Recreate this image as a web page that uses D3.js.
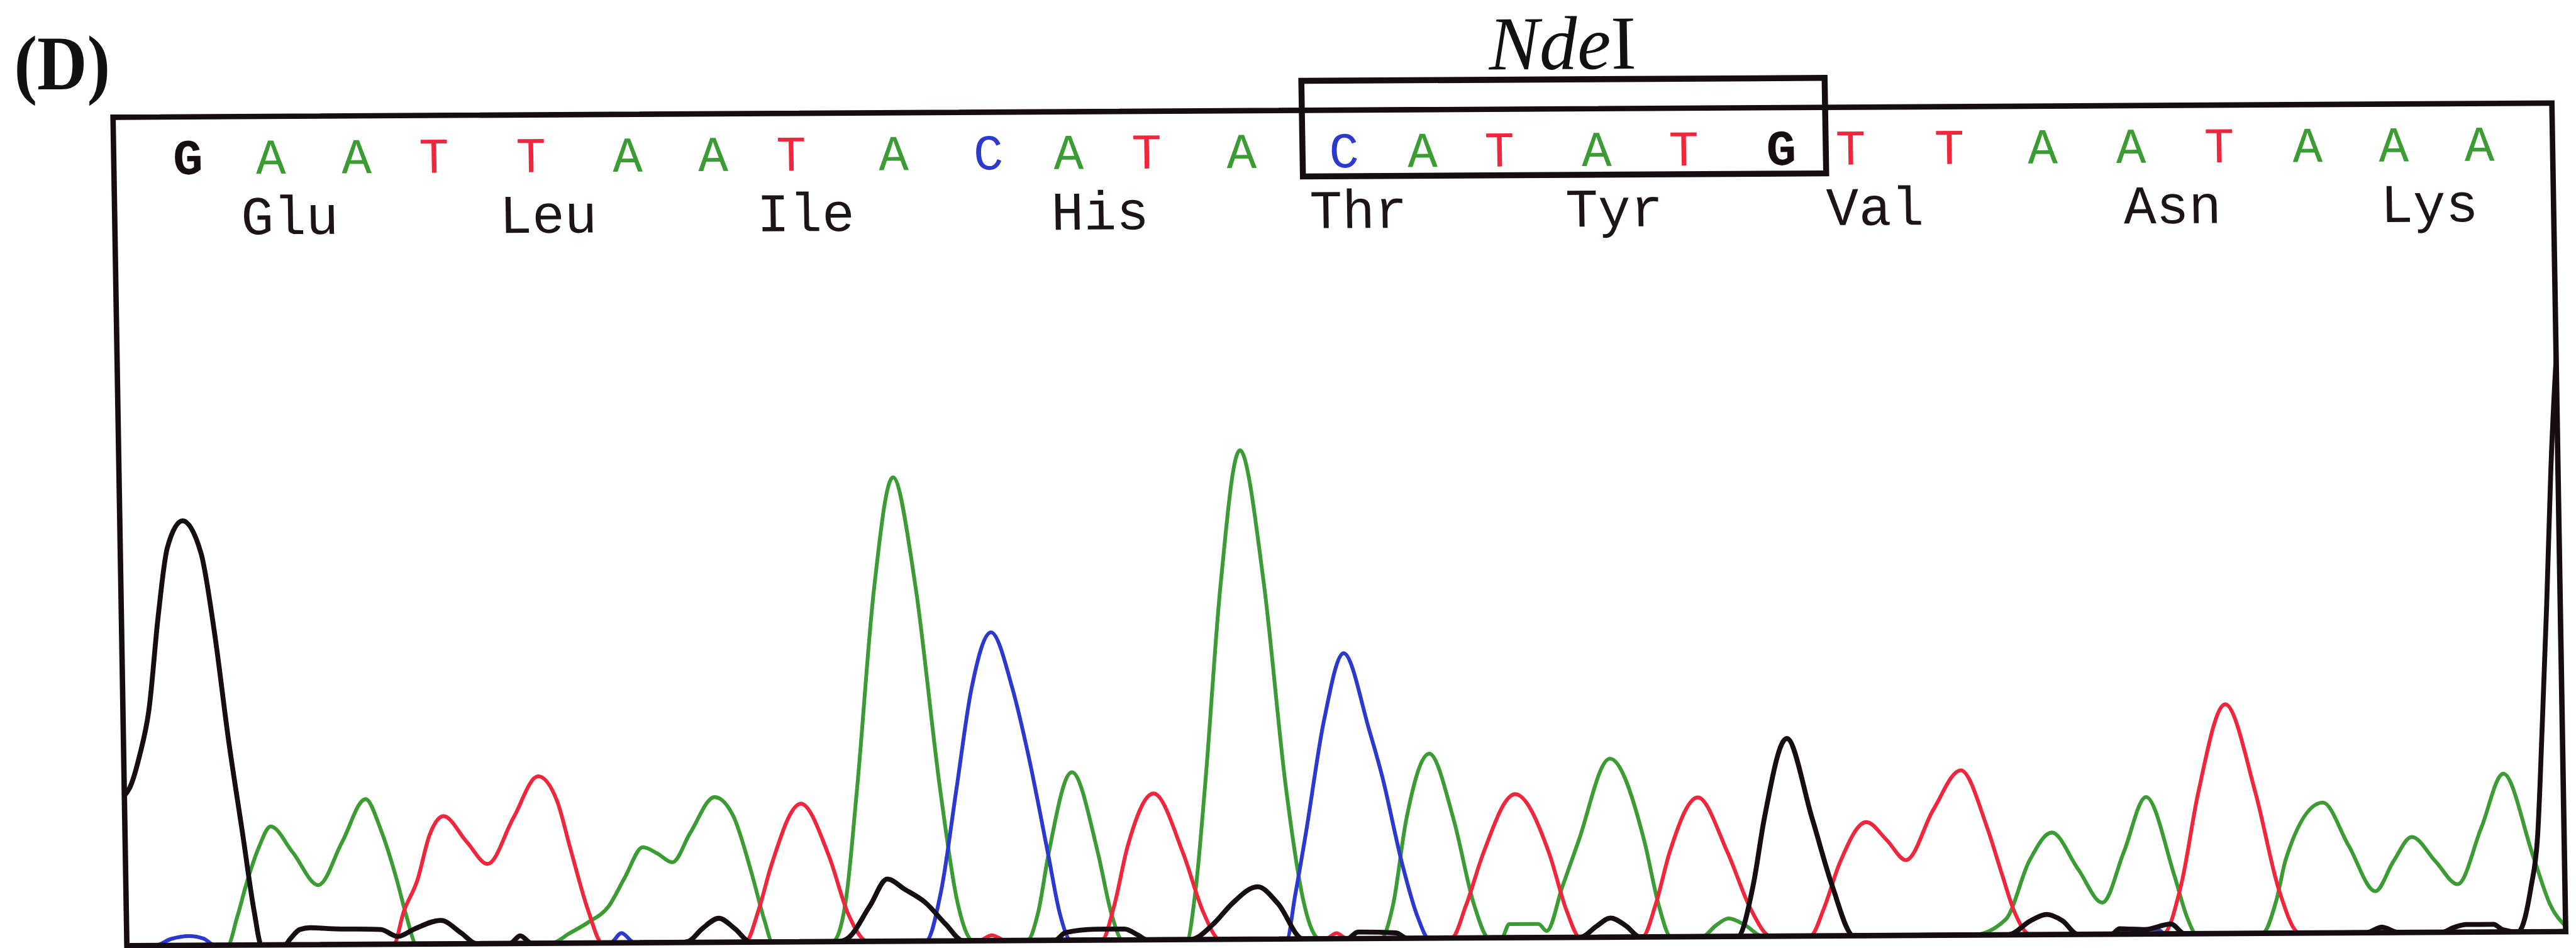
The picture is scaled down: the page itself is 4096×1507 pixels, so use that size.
<!DOCTYPE html>
<html>
<head>
<meta charset="utf-8">
<script src="https://cdn.jsdelivr.net/npm/d3@7"></script>
<style>
  body { margin: 0; background: #fff; }
  svg { display: block; }
</style>
</head>
<body>
<svg id="chart"></svg>
<script>
// sequencing trace around the NdeI site
// scan positions are in trace units, intensities in signal units above baseline

var bases = ["G","A","A","T","T","A","A","T","A","C","A","T","A","C","A","T","A","T","G","T","T","A","A","T","A","A","A"];
var basePos = [365,518,676,819,998,1176,1334,1478,1667,1842,1990,2134,2309,2498,2643,2785,2964,3125,3305,3433,3615,3787,3950,4113,4276,4435,4593];

var aminoAcids = ["Glu","Leu","Ile","His","Thr","Tyr","Val","Asn","Lys"];
var aminoPos = [551,1028,1503,2046,2523,2995,3476,4025,4499];

var siteName = "Nde", siteSuffix = "I";
var siteFirst = 13, siteLast = 18;   // base indexes inside the box

// G channel (black)
var traceG = [[228,275],[238,289],[257,347],[276,432],[296,604],[315,729],[344,778],[377,718],[399,575],[422,375],[445,204],[464,61],[476,0],
  [520,0],[529,10],[548,28],[567,31],[606,29],[697,27],[728,14],[760,28],[808,43],[845,20],[873,0],
  [935,0],[954,14],[975,0],
  [1250,0],[1264,2],[1290,25],[1321,44],[1350,25],[1379,0],
  [1540,0],[1557,5],[1600,65],[1633,114],[1665,95],[1702,71],[1740,30],[1771,0],
  [1940,0],[1960,14],[2016,20],[2069,20],[2095,8],[2110,0],
  [2190,0],[2235,30],[2268,65],[2316,96],[2353,65],[2398,0],
  [2480,0],[2500,12],[2570,10],[2590,0],
  [2910,0],[2940,20],[2966,35],[2995,20],[3020,0],
  [3200,0],[3230,92],[3253,216],[3297,362],[3341,216],[3376,92],[3414,0],
  [3700,0],[3740,25],[3771,37],[3800,25],[3828,0],
  [3890,0],[3905,10],[3950,8],[4000,18],[4025,0],
  [4360,0],[4389,10],[4420,0],
  [4500,0],[4520,8],[4545,14],[4595,14],[4612,4],[4640,0],
  [4665,80],[4679,174],[4691,377],[4703,600],[4715,850],[4740,1200]];

// A channel (green)
var traceA = [[228,0],[414,0],[432,50],[452,117],[475,180],[497,217],[537,169],[583,109],[628,187],[673,266],[700,210],[728,118],[745,50],[762,0],
  [1011,0],[1045,18],[1080,38],[1118,67],[1149,120],[1183,175],[1210,163],[1237,147],[1271,201],[1317,266],[1350,233],[1384,122],[1405,40],[1419,0],
  [1530,0],[1555,70],[1580,280],[1618,650],[1656,850],[1694,650],[1733,280],[1760,80],[1790,0],
  [1889,0],[1910,50],[1931,157],[1977,308],[2023,157],[2045,50],[2065,0],
  [2184,0],[2200,80],[2222,280],[2257,650],[2297,896],[2337,650],[2371,280],[2400,70],[2429,0],
  [2542,0],[2565,60],[2592,216],[2637,338],[2680,216],[2715,60],[2741,0],
  [2765,0],[2779,25],[2833,25],[2848,12],[2878,92],[2909,175],[2970,327],[3031,175],[3055,60],[3077,0],
  [3135,0],[3160,20],[3184,33],[3215,20],[3246,0],
  [3634,0],[3695,28],[3741,136],[3783,187],[3830,120],[3874,58],[3915,150],[3958,251],[4008,106],[4030,30],[4046,0],
  [4168,0],[4195,60],[4214,136],[4284,239],[4330,160],[4378,76],[4412,130],[4447,175],[4490,130],[4530,88],[4575,190],[4618,290],[4671,136],[4700,50],[4730,8]];

// T channel (red)
var traceT = [[228,0],[720,0],[740,60],[766,117],[790,200],[816,234],[858,187],[896,146],[945,230],[992,306],[1026,261],[1049,174],[1080,60],[1105,0],
  [1369,0],[1395,60],[1419,139],[1476,253],[1526,157],[1560,50],[1595,0],
  [1800,0],[1824,10],[1850,0],
  [2027,0],[2050,60],[2077,170],[2127,268],[2180,157],[2215,50],[2245,0],
  [2440,0],[2460,10],[2480,0],
  [2672,0],[2700,60],[2733,154],[2794,263],[2855,154],[2885,50],[2909,0],
  [3024,0],[3050,60],[3077,154],[3131,255],[3184,154],[3225,50],[3261,0],
  [3334,0],[3360,50],[3391,134],[3441,208],[3478,175],[3513,138],[3565,230],[3617,302],[3664,196],[3690,110],[3710,46],[3741,0],
  [3985,0],[4020,90],[4054,257],[4107,420],[4160,257],[4200,80],[4237,0],
  [4733,0]];

// C channel (blue)
var traceC = [[228,0],[280,0],[310,12],[343,17],[370,12],[390,0],
  [1120,0],[1141,18],[1165,0],
  [1702,0],[1732,92],[1763,276],[1794,461],[1832,565],[1870,461],[1897,340],[1931,155],[1950,50],[1970,0],
  [2368,0],[2385,80],[2406,190],[2444,402],[2482,523],[2527,381],[2549,298],[2584,134],[2610,40],[2630,0],
  [3880,0],[3930,10],[3975,8],[3990,0],
  [4733,0]];

var colors = {G: "#160e13", A: "#3b9c34", T: "#f0263c", C: "#2b39cf"};

// overall size, everything is drawn in reference pixels then scaled down
var fullW = 4746, fullH = 1746, k = 0.863;
var boxW = 4500, boxH = 1518;

var svg = d3.select("#chart")
  .attr("width", Math.round(fullW * k))
  .attr("height", Math.round(fullH * k));

svg.append("rect").attr("width", "100%").attr("height", "100%").attr("fill", "#fff");

var root = svg.append("g").attr("transform", "scale(" + k + ")");

// the panel letter
root.append("text")
  .attr("x", 26).attr("y", 165)
  .attr("font-family", "'Times New Roman', 'Liberation Serif', serif")
  .attr("font-weight", "bold")
  .attr("font-size", 142)
  .attr("textLength", 177)
  .attr("lengthAdjust", "spacingAndGlyphs")
  .attr("fill", "#111")
  .text("(D)");

// the scanned figure sits very slightly skewed, keep that
var g = root.append("g")
  .attr("transform", "matrix(0.99856,-0.00578,0.0168,1.00527,208.25,216)");

var x = d3.scaleLinear().domain([228, 228 + boxW]).range([0, boxW]);
var y = d3.scaleLinear().domain([0, boxH]).range([boxH, 0]);

g.append("clipPath").attr("id", "plotclip")
  .append("rect").attr("x", 0).attr("y", 0).attr("width", boxW).attr("height", boxH);

var line = d3.line()
  .x(function(d) { return x(d[0]); })
  .y(function(d) { return y(d[1]); })
  .curve(d3.curveMonotoneX);

var traces = [
  {base: "A", values: traceA, w: 7},
  {base: "T", values: traceT, w: 7},
  {base: "C", values: traceC, w: 7},
  {base: "G", values: traceG, w: 9}
];

g.append("g").attr("clip-path", "url(#plotclip)")
  .selectAll("path")
  .data(traces)
  .enter().append("path")
  .attr("d", function(d) { return line(d.values); })
  .attr("fill", "none")
  .attr("stroke", function(d) { return colors[d.base]; })
  .attr("stroke-width", function(d) { return d.w; })
  .attr("stroke-linejoin", "round");

// frame
g.append("rect")
  .attr("x", 0).attr("y", 0)
  .attr("width", boxW).attr("height", boxH)
  .attr("fill", "none")
  .attr("stroke", "#150d12")
  .attr("stroke-width", 10);

// base calls
var mono = "'Courier New', 'Liberation Mono', monospace";
g.append("g").selectAll("text")
  .data(bases)
  .enter().append("text")
  .attr("x", function(d, i) { return x(basePos[i]); })
  .attr("y", 105)
  .attr("text-anchor", "middle")
  .attr("font-family", mono)
  .attr("font-size", 92)
  .attr("font-weight", function(d) { return d == "G" ? "bold" : "normal"; })
  .attr("fill", function(d) { return colors[d]; })
  .text(function(d) { return d; });

// translation
g.append("g").selectAll("text")
  .data(aminoAcids)
  .enter().append("text")
  .attr("x", function(d, i) { return x(aminoPos[i]); })
  .attr("y", 216)
  .attr("text-anchor", "middle")
  .attr("font-family", mono)
  .attr("font-size", 100)
  .attr("fill", "#1c1418")
  .text(function(d) { return d; });

// restriction site box, edges halfway between neighbouring calls
var shift = 18;
var siteL = x((basePos[siteFirst - 1] + basePos[siteFirst]) / 2 + shift);
var siteR = x((basePos[siteLast] + basePos[siteLast + 1]) / 2 + shift);

g.append("rect")
  .attr("x", siteL).attr("y", -54)
  .attr("width", siteR - siteL).attr("height", 175)
  .attr("fill", "none")
  .attr("stroke", "#150d12")
  .attr("stroke-width", 11);

var site = g.append("text")
  .attr("x", (siteL + siteR) / 2)
  .attr("y", -73)
  .attr("text-anchor", "middle")
  .attr("font-family", "'Times New Roman', 'Liberation Serif', serif")
  .attr("font-size", 140)
  .attr("fill", "#111");
site.append("tspan").attr("font-style", "italic").text(siteName);
site.append("tspan").text(siteSuffix);
</script>
</body>
</html>
